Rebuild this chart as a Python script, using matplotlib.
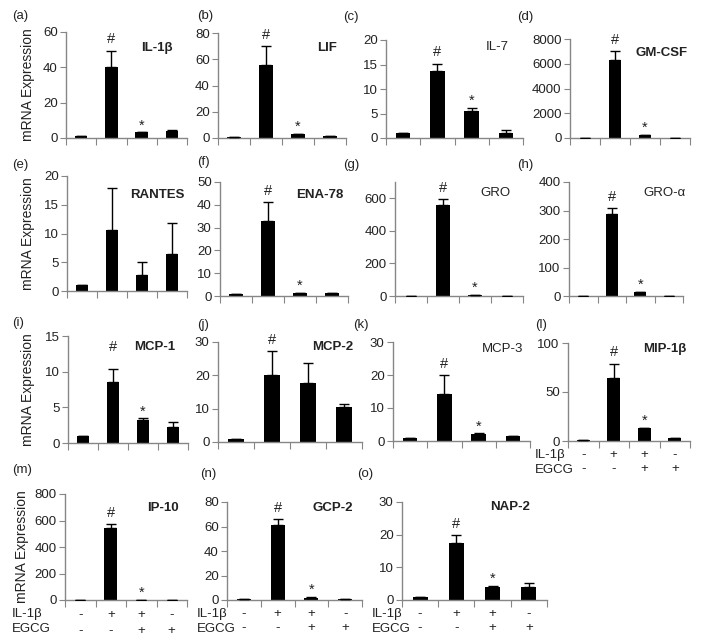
import numpy as np
from matplotlib import pyplot as plt

plt.rcParams['font.family'] = ['Liberation Sans', 'DejaVu Sans']

W, H = 706, 642

# data per panel: values, errors, markers above bars
genes = ['IL-1β', 'LIF', 'IL-7', 'GM-CSF', 'RANTES', 'ENA-78', 'GRO', 'GRO-α',
         'MCP-1', 'MCP-2', 'MCP-3', 'MIP-1β', 'IP-10', 'GCP-2', 'NAP-2']
letters = ['(a)', '(b)', '(c)', '(d)', '(e)', '(f)', '(g)', '(h)',
           '(i)', '(j)', '(k)', '(l)', '(m)', '(n)', '(o)']

il1b_vals = [1, 40, 3.2, 4]
il1b_err = [0, 9.5, 0, 0.4]
lif_vals = [0.8, 56, 3, 1.5]
lif_err = [0, 14, 0, 0]
il7_vals = [1, 13.6, 5.6, 1]
il7_err = [0, 1.6, 0.5, 0.6]
gmcsf_vals = [5, 6300, 220, 5]
gmcsf_err = [0, 750, 0, 0]
rantes_vals = [1, 10.6, 2.8, 6.4]
rantes_err = [0, 7.3, 2.2, 5.4]
ena78_vals = [0.8, 33, 1.3, 1.3]
ena78_err = [0, 8.3, 0, 0.2]
gro_vals = [0, 560, 5, 0]
gro_err = [0, 35, 0, 0]
groa_vals = [0, 287, 14, 0]
groa_err = [0, 22, 0, 0]
mcp1_vals = [1, 8.5, 3.2, 2.2]
mcp1_err = [0, 1.9, 0.25, 0.8]
mcp2_vals = [1, 20, 17.6, 10.6]
mcp2_err = [0, 7.2, 6.2, 0.8]
mcp3_vals = [0.8, 14.3, 2.1, 1.5]
mcp3_err = [0, 5.7, 0.2, 0.1]
mip1b_vals = [1, 64, 13, 3]
mip1b_err = [0, 15, 0.5, 0.5]
ip10_vals = [0, 540, 0, 0]
ip10_err = [0, 35, 0, 0]
gcp2_vals = [0.5, 61.5, 1.5, 0.5]
gcp2_err = [0, 4.5, 1.2, 0]
nap2_vals = [0.9, 17.6, 4, 4]
nap2_err = [0, 2.4, 0.2, 1.1]

values = [il1b_vals, lif_vals, il7_vals, gmcsf_vals, rantes_vals, ena78_vals,
          gro_vals, groa_vals, mcp1_vals, mcp2_vals, mcp3_vals, mip1b_vals,
          ip10_vals, gcp2_vals, nap2_vals]
errors = [il1b_err, lif_err, il7_err, gmcsf_err, rantes_err, ena78_err,
          gro_err, groa_err, mcp1_err, mcp2_err, mcp3_err, mip1b_err,
          ip10_err, gcp2_err, nap2_err]
marks = [['', '#', '*', '']] * 15
marks[4] = ['', '', '', '']
marks[9] = ['', '#', '', '']

ymax = [60, 80, 20, 8000, 20, 50, 700, 400, 15, 30, 30, 100, 800, 80, 30]
ysteps = [20, 20, 5, 2000, 5, 10, 200, 100, 5, 10, 10, 50, 200, 20, 10]

il1b_row = ['-', '+', '+', '-']
egcg_row = ['-', '-', '+', '+']

# axes boxes in pixels: left, right, top, bottom
boxes = [(66, 187, 32, 138), (218, 346, 33, 138), (386, 523, 40, 138), (570, 690, 39, 138),
         (67, 187, 176, 291), (220, 348, 182, 296), (395, 523, 182, 296), (569, 683, 182, 296),
         (68, 188, 336, 443), (218, 362, 342, 442), (393, 530, 342, 441), (568, 690, 343, 441),
         (65, 187, 494, 600), (227, 362, 502, 600), (402, 547, 502, 600)]
letter_pos = [(12, 16), (197, 16), (343, 17), (517, 17),
              (12, 165), (197, 162), (343, 165), (517, 165),
              (12, 323), (197, 325), (353, 325), (535, 325),
              (12, 470), (200, 474), (357, 474)]
gene_pos = [(157, 48), (327, 48), (497, 47), (662, 53),
            (157, 195), (320, 195), (495, 193), (665, 193),
            (155, 347), (333, 347), (503, 349), (665, 349),
            (163, 508), (333, 508), (510, 507)]
gene_bold = [True, True, False, True, True, True, False, False,
             True, True, False, True, True, True, True]
ylabel_x = [28, None, None, None, 28, None, None, None, 28, None, None, None, 22, None, None]
signs_label_x = {11: 535, 12: 12, 13: 197, 14: 372}

axcol = '#868686'
txtcol = '#222222'

fig = plt.figure(figsize=(W / 100, H / 100), dpi=100)

for i in range(15):
    l, r, t, b = boxes[i]
    ax = fig.add_axes([l / W, 1 - b / H, (r - l) / W, (b - t) / H])
    x = np.arange(4)
    ax.bar(x, values[i], width=0.42, color='black', zorder=2)
    ax.errorbar(x, values[i], yerr=[np.zeros(4), errors[i]], fmt='none',
                ecolor='black', elinewidth=1, capsize=3.5, capthick=1, zorder=3)
    for k in range(4):
        if marks[i][k]:
            top = values[i][k] + errors[i][k]
            off = 3 if marks[i][k] == '#' else 0
            if i == 8 and k == 1:
                off = 11
            ax.annotate(marks[i][k], (k, top), xytext=(0, off), textcoords='offset points',
                        ha='center', va='bottom', fontsize=10.5, color=txtcol)
    ax.set_xlim(-0.5, 3.5)
    ax.set_ylim(0, ymax[i])
    ax.set_yticks(np.arange(0, ymax[i] + 1, ysteps[i]))
    ax.set_xticks([-0.5, 0.5, 1.5, 2.5, 3.5])
    ax.set_xticklabels([])
    for s in ['top', 'right']:
        ax.spines[s].set_visible(False)
    for s in ['left', 'bottom']:
        ax.spines[s].set_color(axcol)
        ax.spines[s].set_linewidth(1)
    ax.tick_params(axis='y', colors=axcol, labelcolor=txtcol, labelsize=9.5, length=4, pad=2)
    ax.tick_params(axis='x', colors=axcol, length=5, direction='out')
    ax.patch.set_alpha(0)

    fig.text(letter_pos[i][0] / W, 1 - letter_pos[i][1] / H, letters[i],
             fontsize=9.5, ha='left', va='center', color=txtcol)
    fig.text(gene_pos[i][0] / W, 1 - gene_pos[i][1] / H, genes[i], fontsize=9.5,
             fontweight='bold' if gene_bold[i] else 'normal',
             ha='center', va='center', color=txtcol)
    if ylabel_x[i] is not None:
        fig.text(ylabel_x[i] / W, 1 - (t + b) / 2 / H, 'mRNA Expression', fontsize=10,
                 rotation=90, ha='center', va='center', color=txtcol)
    if i in signs_label_x:
        trans = ax.get_xaxis_transform()
        for k in range(4):
            ax.text(k, -0.14, il1b_row[k], transform=trans, ha='center', va='center',
                    fontsize=9.5, color=txtcol)
            ax.text(k, -0.29, egcg_row[k], transform=trans, ha='center', va='center',
                    fontsize=9.5, color=txtcol)
        fig.text(signs_label_x[i] / W, 1 - (b + 14) / H, 'IL-1β', fontsize=9.5,
                 ha='left', va='center', color=txtcol)
        fig.text(signs_label_x[i] / W, 1 - (b + 29) / H, 'EGCG', fontsize=9.5,
                 ha='left', va='center', color=txtcol)

fig.savefig('out.png', dpi=100)
